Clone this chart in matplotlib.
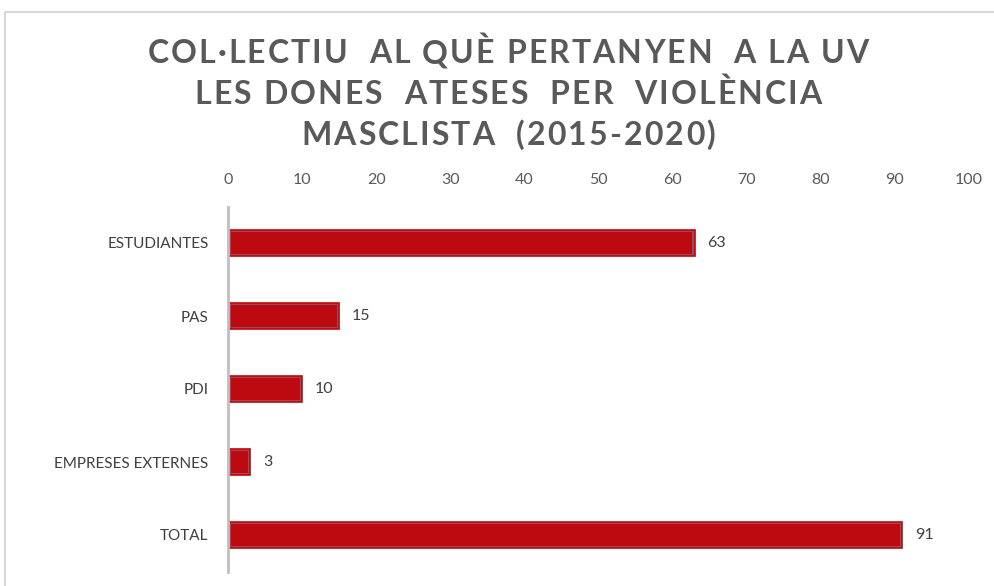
import matplotlib.pyplot as plt
from matplotlib.patches import Rectangle
from matplotlib.font_manager import FontProperties

# data
categories = ['ESTUDIANTES', 'PAS', 'PDI', 'EMPRESES EXTERNES', 'TOTAL']
values = [63, 15, 10, 3, 91]
xticks = [0, 10, 20, 30, 40, 50, 60, 70, 80, 90, 100]
title_lines = ['COL·LECTIU  AL QUÈ PERTANYEN  A LA UV',
               'LES DONES  ATESES  PER  VIOLÈNCIA',
               'MASCLISTA  (2015-2020)']

plt.rcParams['font.family'] = ['Lato', 'DejaVu Sans']

fig = plt.figure(figsize=(9.95, 5.86), dpi=100)

# outer chart border (light grey)
fig.patches.append(Rectangle((5/995, -0.1), 1.2, 1 - 12/586 + 0.1, transform=fig.transFigure,
                             fill=False, edgecolor='#D9D9D9', linewidth=1.5))

ax = fig.add_axes([228/995, 14.5/586, 741/995, 365/586])
ypos = list(range(len(categories)))
# grey-ish glow under red fill
ax.barh(ypos, values, height=0.36, color='#8A5068', edgecolor='#D00000', linewidth=1.2, zorder=2)
ax.barh(ypos, [v - 0.7 if v > 2 else v * 0.6 for v in values], left=[0.35 if v > 2 else v * 0.2 for v in values],
        height=0.29, color='#BC0A10', linewidth=0, zorder=3)

for y, v in zip(ypos, values):
    ax.text(v + 1.7, y, str(v), va='center', ha='left', fontsize=11.5, color='#404040')

ax.set_xlim(0, 100)
ax.set_ylim(len(categories) - 0.5, -0.5)
ax.set_xticks(xticks)
ax.set_yticks(ypos)
ax.set_yticklabels(categories)
ax.xaxis.tick_top()
ax.tick_params(axis='x', length=0, pad=14, labelsize=11.5, labelcolor='#595959')
ax.tick_params(axis='y', length=0, pad=14, labelsize=11, labelcolor='#404040')
for s in ['top', 'right', 'bottom']:
    ax.spines[s].set_visible(False)
ax.spines['left'].set_color('#BFBFBF')
ax.spines['left'].set_linewidth(2)
ax.spines['left'].set_zorder(4)

# title with letter spacing, drawn char by char on a shared baseline
renderer = fig.canvas.get_renderer()
prop = FontProperties(family=['Lato', 'DejaVu Sans'], weight='bold', size=23)
spacing = 2.1  # px between letters
W, H = fig.bbox.width, fig.bbox.height
for i, line in enumerate(title_lines):
    widths = [renderer.get_text_width_height_descent(c, prop, ismath=False)[0] for c in line]
    total = sum(widths) + spacing * (len(line) - 1)
    x = 508 - total / 2
    yb = 1 - (63 + 41*i) / 586
    for c, w in zip(line, widths):
        fig.text(x / W, yb, c, ha='left', va='baseline', fontproperties=prop, color='#595959')
        x += w + spacing

fig.savefig('out.png', dpi=100)
